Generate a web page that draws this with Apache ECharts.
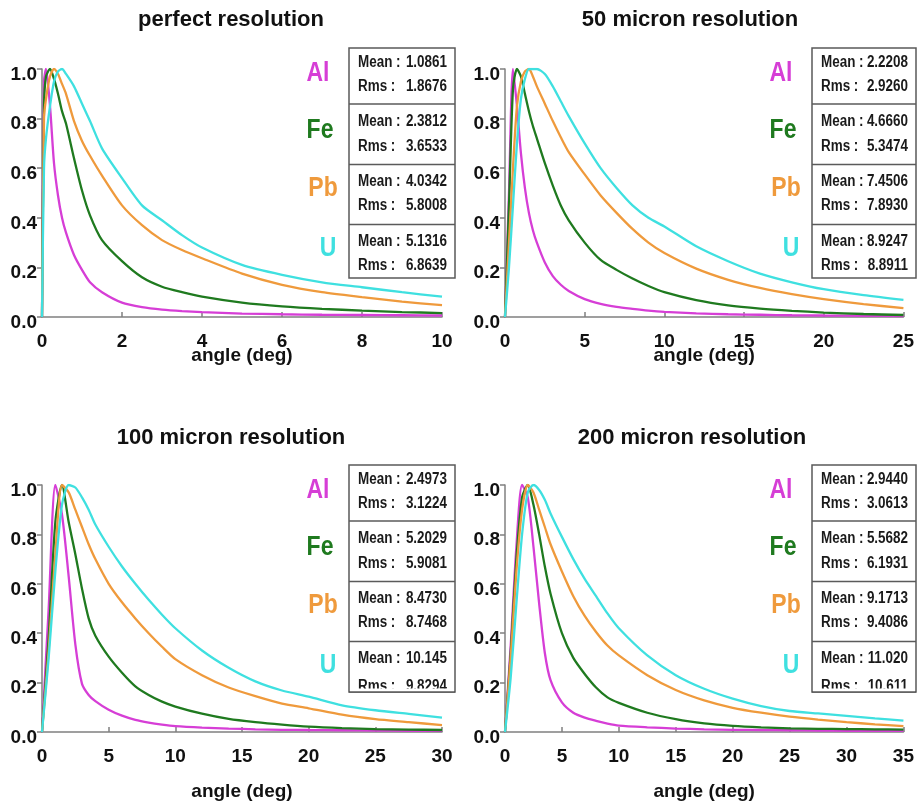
<!DOCTYPE html>
<html><head><meta charset="utf-8">
<script src="https://cdn.jsdelivr.net/npm/echarts@6/dist/echarts.min.js"></script>
<style>html,body{margin:0;padding:0;background:#fff}#c{width:917px;height:808px}</style>
</head><body><div id="c"></div>
<script>
// ---------- data ----------
const titles = ['perfect resolution', '50 micron resolution', '100 micron resolution', '200 micron resolution'];
const elements = ['Al', 'Fe', 'Pb', 'U'];
const xMax = [10, 25, 30, 35];
const xStep = [2, 5, 5, 5];

const meanVals = [
  ['1.0861', '2.3812', '4.0342', '5.1316'],
  ['2.2208', '4.6660', '7.4506', '8.9247'],
  ['2.4973', '5.2029', '8.4730', '10.145'],
  ['2.9440', '5.5682', '9.1713', '11.020']
];
const rmsVals = [
  ['1.8676', '3.6533', '5.8008', '6.8639'],
  ['2.9260', '5.3474', '7.8930', '8.8911'],
  ['3.1224', '5.9081', '8.7468', '9.8294'],
  ['3.0613', '6.1931', '9.4086', '10.611']
];

// panel 1: perfect resolution
const x1 = [0, 0.05, 0.1, 0.2, 0.3, 0.4, 0.5, 0.6, 0.8, 1.0, 1.2, 1.5, 2, 2.5, 3, 3.5, 4, 5, 6, 7, 8, 9, 10];
const al1 = [0, 0.95, 1.0, 0.85, 0.62, 0.49, 0.40, 0.34, 0.25, 0.19, 0.14, 0.10, 0.058, 0.04, 0.03, 0.024, 0.02, 0.014, 0.011, 0.009, 0.008, 0.007, 0.006];
const fe1 = [0, 0.85, 0.97, 1.0, 0.96, 0.9, 0.83, 0.78, 0.64, 0.51, 0.41, 0.31, 0.225, 0.16, 0.122, 0.1, 0.082, 0.058, 0.043, 0.033, 0.026, 0.02, 0.016];
const pb1 = [0, 0.8, 0.88, 0.97, 1.0, 0.98, 0.94, 0.9, 0.79, 0.71, 0.65, 0.57, 0.45, 0.37, 0.31, 0.27, 0.237, 0.175, 0.13, 0.1, 0.08, 0.062, 0.048];
const u1 = [0, 0.6, 0.72, 0.85, 0.95, 0.99, 1.0, 0.98, 0.93, 0.86, 0.79, 0.68, 0.56, 0.45, 0.39, 0.33, 0.28, 0.21, 0.17, 0.14, 0.12, 0.1, 0.082];

// panel 2: 50 micron
const x2 = [0, 0.25, 0.5, 0.75, 1, 1.25, 1.5, 1.75, 2, 2.5, 3, 3.5, 4, 5, 6, 7, 8, 9, 10, 12, 14, 16, 18, 20, 22.5, 25];
const al2 = [0, 0.5, 1.0, 0.85, 0.66, 0.52, 0.42, 0.35, 0.3, 0.22, 0.165, 0.13, 0.105, 0.072, 0.053, 0.041, 0.033, 0.026, 0.021, 0.015, 0.011, 0.009, 0.007, 0.006, 0.005, 0.004];
const fe2 = [0, 0.45, 0.92, 1.0, 0.97, 0.9, 0.83, 0.77, 0.72, 0.62, 0.53, 0.45, 0.39, 0.3, 0.23, 0.19, 0.155, 0.125, 0.1, 0.068, 0.047, 0.034, 0.025, 0.018, 0.012, 0.008];
const pb2 = [0, 0.3, 0.6, 0.85, 0.95, 0.99, 1.0, 0.97, 0.93, 0.86, 0.79, 0.725, 0.665, 0.575, 0.49, 0.42, 0.355, 0.3, 0.258, 0.195, 0.15, 0.117, 0.092, 0.072, 0.052, 0.036];
const u2 = [0, 0.2, 0.45, 0.7, 0.88, 0.96, 1.0, 1.0, 1.0, 0.98, 0.93, 0.87, 0.81, 0.7, 0.6, 0.52, 0.45, 0.4, 0.365, 0.285, 0.225, 0.175, 0.14, 0.112, 0.088, 0.069];

// panel 3: 100 micron
const x3 = [0, 0.5, 1, 1.5, 2, 2.5, 3, 3.5, 4, 5, 6, 7, 8, 9, 10, 12, 14, 16, 18, 20, 22.5, 25, 27.5, 30];
const al3 = [0, 0.5, 1.0, 0.88, 0.63, 0.355, 0.195, 0.15, 0.125, 0.09, 0.066, 0.049, 0.038, 0.03, 0.024, 0.018, 0.014, 0.011, 0.009, 0.008, 0.007, 0.006, 0.005, 0.005];
const fe3 = [0, 0.38, 0.85, 1.0, 0.85, 0.72, 0.58, 0.46, 0.39, 0.305, 0.24, 0.185, 0.15, 0.123, 0.103, 0.074, 0.053, 0.04, 0.03, 0.022, 0.016, 0.012, 0.01, 0.008];
const pb3 = [0, 0.33, 0.72, 1.0, 0.97, 0.9, 0.83, 0.76, 0.7, 0.6, 0.525, 0.46, 0.4, 0.345, 0.295, 0.23, 0.18, 0.145, 0.115, 0.096, 0.07, 0.052, 0.04, 0.028];
const u3 = [0, 0.3, 0.65, 0.92, 1.0, 0.99, 0.95, 0.9, 0.84, 0.75, 0.67, 0.6, 0.535, 0.475, 0.42, 0.33, 0.26, 0.205, 0.168, 0.143, 0.108, 0.088, 0.073, 0.058];

// panel 4: 200 micron
const x4 = [0, 0.5, 1, 1.5, 2, 2.5, 3, 3.5, 4, 5, 6, 7, 8, 9, 10, 12.5, 15, 17.5, 20, 22.5, 25, 27.5, 30, 32.5, 35];
const al4 = [0, 0.35, 0.75, 1.0, 0.95, 0.75, 0.52, 0.32, 0.21, 0.12, 0.078, 0.058, 0.045, 0.034, 0.026, 0.019, 0.014, 0.011, 0.009, 0.008, 0.007, 0.006, 0.005, 0.005, 0.005];
const fe4 = [0, 0.32, 0.7, 0.95, 1.0, 0.92, 0.8, 0.67, 0.56, 0.4, 0.3, 0.235, 0.18, 0.14, 0.118, 0.078, 0.052, 0.035, 0.025, 0.019, 0.015, 0.013, 0.012, 0.011, 0.01];
const pb4 = [0, 0.3, 0.65, 0.9, 1.0, 0.97, 0.9, 0.83, 0.76, 0.65, 0.55, 0.47, 0.405, 0.35, 0.31, 0.23, 0.17, 0.128, 0.098, 0.078, 0.062, 0.05, 0.04, 0.031, 0.024];
const u4 = [0, 0.22, 0.52, 0.8, 0.97, 1.0, 0.98, 0.94, 0.885, 0.79, 0.7, 0.62, 0.55, 0.48, 0.42, 0.31, 0.23, 0.175, 0.135, 0.105, 0.085, 0.075, 0.065, 0.055, 0.046];

const xs = [x1, x2, x3, x4];
const ys = [[al1, fe1, pb1, u1], [al2, fe2, pb2, u2], [al3, fe3, pb3, u3], [al4, fe4, pb4, u4]];

// ---------- styling / layout ----------
const FONT = '"Liberation Sans", Arial, Helvetica, sans-serif';
const colors = ['#d63ed6', '#1f7a1f', '#ef9a3c', '#3fe0e0'];
const axisColor = '#808080';
const grids = [
  {left: 42, top: 69, width: 400, height: 248},
  {left: 505, top: 69, width: 400, height: 248},
  {left: 42, top: 485, width: 400, height: 247},
  {left: 505, top: 485, width: 400, height: 247}
];
const titlePos = [[231, 9], [690, 9], [231, 427], [692, 427]];
const nameGaps = [29, 29, 50.5, 50.5];
const boxes = [
  {x: 349, y: 48, w: 106, h: 230},
  {x: 812, y: 48, w: 104, h: 230},
  {x: 349, y: 465, w: 106, h: 227},
  {x: 812, y: 465, w: 104, h: 227}
];
const divOff = [56, 116.5, 176.5];
const meanOff = [15, 74, 134, 194];
const rmsOff = [38.5, 98.5, 158, 217.5];
const elemDx = [-31, -29, -26, -21];
const elemDy = [25, 82, 140, 200];

const chart = echarts.init(document.getElementById('c'), null, {renderer: 'canvas'});

const xAxis = [], yAxis = [], series = [], graphic = [];
for (let p = 0; p < 4; p++) {
  xAxis.push({
    type: 'value', gridIndex: p, min: 0, max: xMax[p], interval: xStep[p],
    name: 'angle (deg)', nameLocation: 'middle', nameGap: nameGaps[p], nameMoveOverlap: false,
    nameTextStyle: {fontFamily: FONT, fontWeight: 'bold', fontSize: 19, color: '#111', verticalAlign: 'top'},
    axisLine: {lineStyle: {color: axisColor, width: 1.5}},
    axisTick: {inside: true, length: 5, lineStyle: {color: axisColor, width: 1.5}},
    axisLabel: {fontFamily: FONT, fontWeight: 'bold', fontSize: 19, color: '#111', margin: 15},
    splitLine: {show: false}
  });
  yAxis.push({
    type: 'value', gridIndex: p, min: 0, max: 1, interval: 0.2,
    axisLine: {show: true, lineStyle: {color: axisColor, width: 1.5}},
    axisTick: {show: true, inside: false, length: 5, lineStyle: {color: axisColor, width: 1.5}},
    axisLabel: {fontFamily: FONT, fontWeight: 'bold', fontSize: 19, color: '#111', margin: 5,
      verticalAlign: 'top', lineHeight: 11,
      formatter: v => v.toFixed(1)},
    splitLine: {show: false}
  });
  for (let e = 0; e < 4; e++) {
    series.push({
      type: 'line', name: elements[e], xAxisIndex: p, yAxisIndex: p,
      data: xs[p].map((x, i) => [x, ys[p][e][i]]),
      showSymbol: false, symbol: 'none', silent: true, animation: false,
      smooth: 0.25,
      lineStyle: {color: colors[e], width: 2.3},
      itemStyle: {color: colors[e]}
    });
  }
  // stats box
  const b = boxes[p];
  graphic.push({type: 'rect', z: 10, shape: {x: b.x, y: b.y, width: b.w, height: b.h},
    style: {fill: '#fff', stroke: '#5a5a5a', lineWidth: 1.5}});
  divOff.forEach(d => graphic.push({type: 'line', z: 12,
    shape: {x1: b.x, y1: b.y + d, x2: b.x + b.w, y2: b.y + d},
    style: {stroke: '#5a5a5a', lineWidth: 1.5}}));
  for (let e = 0; e < 4; e++) {
    const clipLast = (p >= 2 && e === 3);
    const rowR = b.y + (clipLast ? 221.5 : rmsOff[e]);
    const rowM = b.y + meanOff[e];
    const ts = {fill: '#1a1a1a', font: 'bold 16px ' + FONT, verticalAlign: 'middle', textVerticalAlign: 'middle'};
    graphic.push({type: 'text', z: 11, x: b.x + 9, y: rowM, scaleX: 0.84,
      style: Object.assign({}, ts, {text: 'Mean :', align: 'left', textAlign: 'left'})});
    graphic.push({type: 'text', z: 11, x: b.x + b.w - 8, y: rowM, scaleX: 0.84,
      style: Object.assign({}, ts, {text: meanVals[p][e], align: 'right', textAlign: 'right'})});
    graphic.push({type: 'text', z: 11, x: b.x + 9, y: rowR, scaleX: 0.84,
      style: Object.assign({}, ts, {text: 'Rms :', align: 'left', textAlign: 'left'})});
    graphic.push({type: 'text', z: 11, x: b.x + b.w - 8, y: rowR, scaleX: 0.84,
      style: Object.assign({}, ts, {text: rmsVals[p][e], align: 'right', textAlign: 'right'})});
    // element label
    graphic.push({type: 'text', z: 11, x: b.x + elemDx[e], y: b.y + elemDy[e], scaleX: 0.82,
      style: {text: elements[e], fill: colors[e], font: 'bold 28px ' + FONT,
        align: 'center', textAlign: 'center', verticalAlign: 'middle', textVerticalAlign: 'middle'}});
  }
  if (p >= 2) {
    graphic.push({type: 'rect', z: 11.5, shape: {x: b.x + 1, y: b.y + b.h - 3.5, width: b.w - 2, height: 3.5},
      style: {fill: '#fff'}});
    graphic.push({type: 'line', z: 12, shape: {x1: b.x, y1: b.y + b.h, x2: b.x + b.w, y2: b.y + b.h},
      style: {stroke: '#5a5a5a', lineWidth: 1.5}});
  }
}

chart.setOption({
  animation: false,
  backgroundColor: '#fff',
  title: titles.map((t, i) => ({
    text: t, left: titlePos[i][0], top: titlePos[i][1], textAlign: 'center', padding: 0,
    textStyle: {fontFamily: FONT, fontWeight: 'bold', fontSize: 22, color: '#111'}
  })),
  grid: grids,
  xAxis: xAxis,
  yAxis: yAxis,
  series: series,
  graphic: graphic
});
</script>
</body></html>
